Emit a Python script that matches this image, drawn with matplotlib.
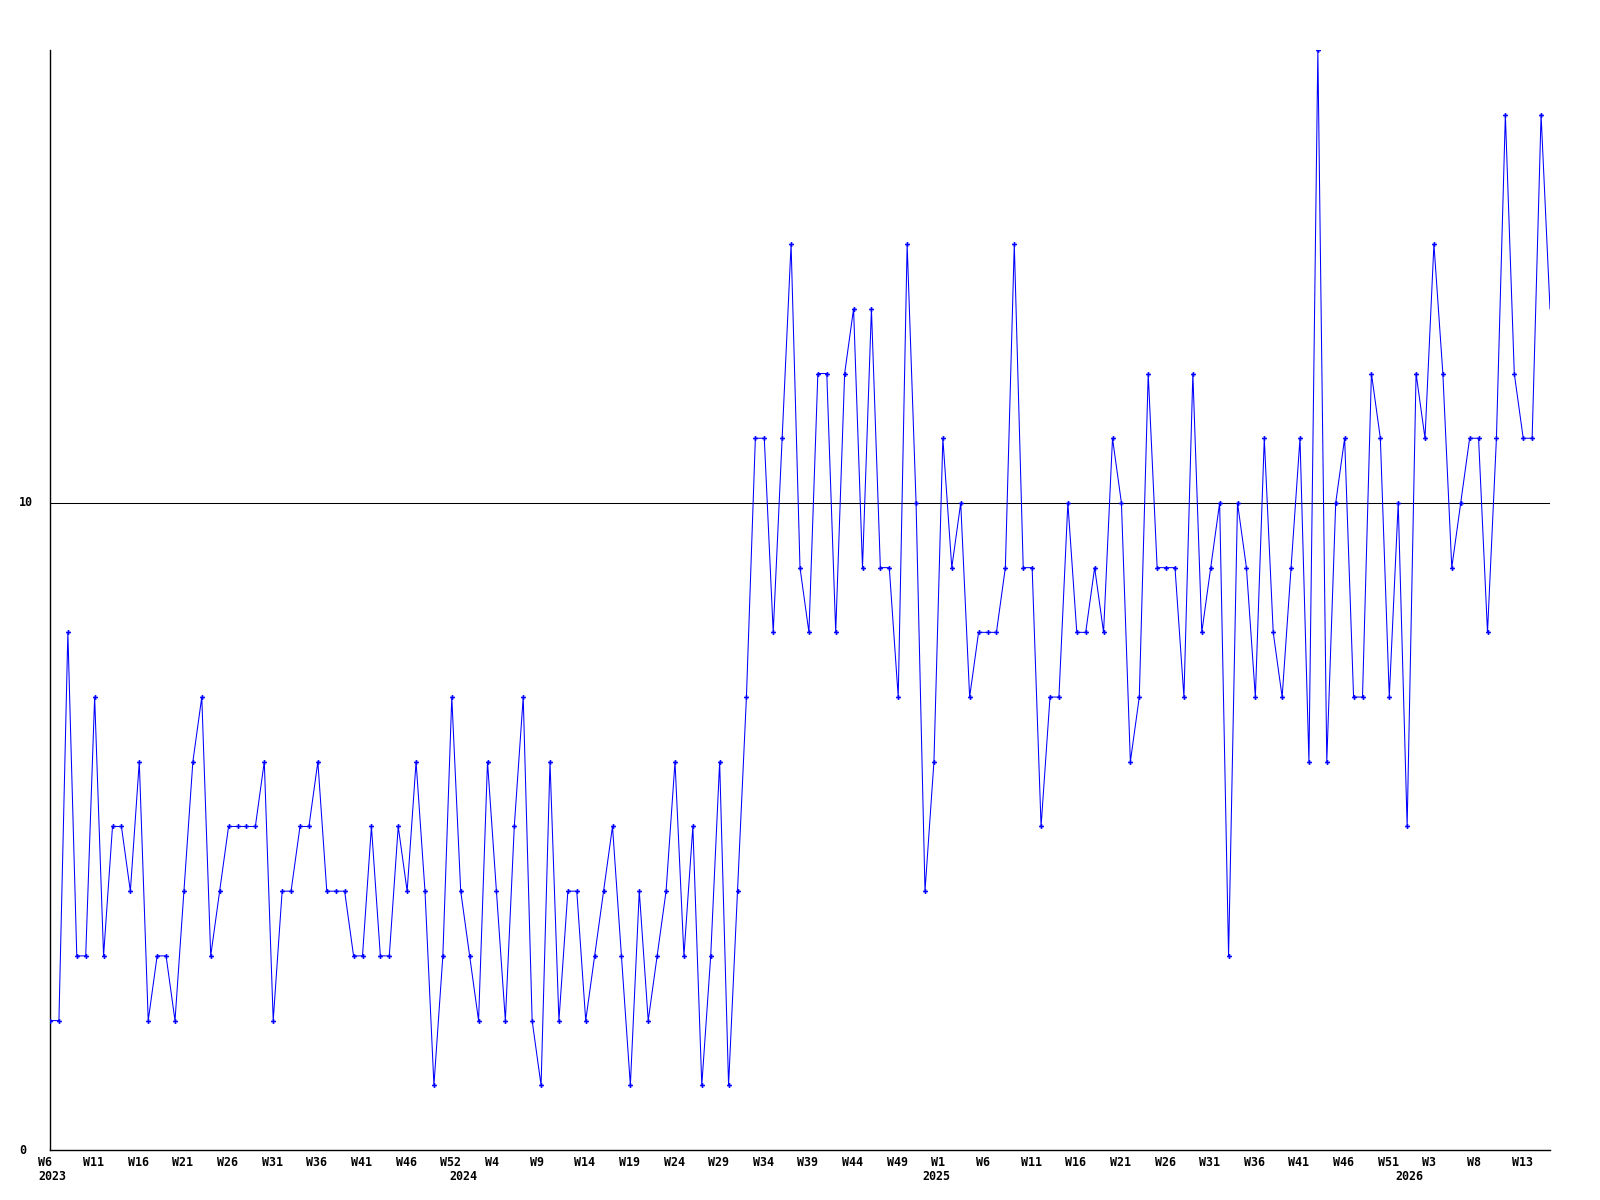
import numpy as np
import matplotlib
matplotlib.use("Agg")
import matplotlib.pyplot as plt
from matplotlib.transforms import ScaledTranslation, blended_transform_factory

# weekly counts, one value per point (last point has no marker, line runs to the edge)
values = [
    2, 2, 8, 3, 3, 7, 3, 5, 5, 4,
    6, 2, 3, 3, 2, 4, 6, 7, 3, 4,
    5, 5, 5, 5, 6, 2, 4, 4, 5, 5,
    6, 4, 4, 4, 3, 3, 5, 3, 3, 5,
    4, 6, 4, 1, 3, 7, 4, 3, 2, 6,
    4, 2, 5, 7, 2, 1, 6, 2, 4, 4,
    2, 3, 4, 5, 3, 1, 4, 2, 3, 4,
    6, 3, 5, 1, 3, 6, 1, 4, 7, 11,
    11, 8, 11, 14, 9, 8, 12, 12, 8, 12,
    13, 9, 13, 9, 9, 7, 14, 10, 4, 6,
    11, 9, 10, 7, 8, 8, 8, 9, 14, 9,
    9, 5, 7, 7, 10, 8, 8, 9, 8, 11,
    10, 6, 7, 12, 9, 9, 9, 7, 12, 8,
    9, 10, 3, 10, 9, 7, 11, 8, 7, 9,
    11, 6, 17, 6, 10, 11, 7, 7, 12, 11,
    7, 10, 5, 12, 11, 14, 12, 9, 10, 11,
    11, 8, 11, 16, 12, 11, 11, 16, 13,
]

# a week label every 5th point
week_labels = [
    "W6", "W11", "W16", "W21", "W26", "W31", "W36", "W41", "W46", "W52",
    "W4", "W9", "W14", "W19", "W24", "W29", "W34", "W39", "W44", "W49",
    "W1", "W6", "W11", "W16", "W21", "W26", "W31", "W36", "W41", "W46",
    "W51", "W3", "W8", "W13",
]
year_labels = ["2023", "2024", "2025", "2026"]
year_start_idx = [0, 46, 99, 152]

y_labels = [0, 10]

fig = plt.figure(figsize=(16, 12), dpi=100)
fig.patch.set_facecolor("white")
ax = fig.add_axes([50 / 1600, 50 / 1200, 1500 / 1600, 1100 / 1200])

x = np.arange(len(values))
ax.axhline(10, color="black", lw=0.75, zorder=1)
ax.plot(x, values, color="#0000ff", lw=0.75, marker="P", ms=3.5, mew=0,
        markevery=list(range(len(values) - 1)), zorder=3)

ax.set_xlim(0, len(values) - 1)
ax.set_ylim(0, 17)
ax.set_xticks([])
ax.set_yticks([])
for side in ["top", "right"]:
    ax.spines[side].set_visible(False)
for side in ["left", "bottom"]:
    ax.spines[side].set_linewidth(1.0)
    ax.spines[side].set_color("black")

font = dict(family="DejaVu Sans Mono", fontweight="bold", fontsize=8.4)

# x labels: left edge sits a bit left of the point
xtrans = blended_transform_factory(ax.transData, ax.transAxes)
shift_week = xtrans + ScaledTranslation(-11.5 / 100, -12.3 / 100, fig.dpi_scale_trans)
shift_year = xtrans + ScaledTranslation(-11.5 / 100, -26.7 / 100, fig.dpi_scale_trans)
for i, lab in enumerate(week_labels):
    ax.text(i * 5, 0, lab, transform=shift_week, ha="left", va="center",
            clip_on=False, **font)
for idx, lab in zip(year_start_idx, year_labels):
    ax.text(idx, 0, lab, transform=shift_year, ha="left", va="center",
            clip_on=False, **font)

# y labels, left aligned at the figure edge
ytrans = blended_transform_factory(ax.transAxes, ax.transData)
for v in y_labels:
    ax.text((19 - 50) / 1500, v, str(v), transform=ytrans, ha="left",
            va="center", clip_on=False, **font)

fig.savefig("out.png", dpi=100, facecolor="white")
